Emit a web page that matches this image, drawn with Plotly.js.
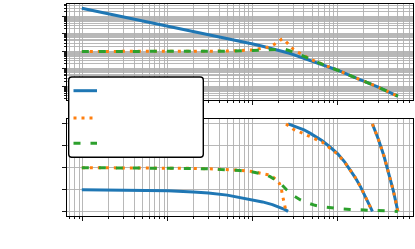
<!DOCTYPE html>
<html><head><meta charset="utf-8">
<script src="https://cdn.plot.ly/plotly-3.0.1.min.js"></script>
<style>html,body{margin:0;padding:0;background:#fff;}#chart{width:415px;height:249px;}</style>
</head><body><div id="chart"></div>
<script>
// ---- data ----
const magFreq = [0.097,0.2,0.5,1,2,5,10,13,15,17,19,20.5,21.6,22.3,23,24,25,27,30,35,40,45,50,60,70,85,100,150,200,300,400,510];
const magOpenLoop = [290,141,56,28,14,5.5,2.7,2.0,1.7,1.45,1.26,1.15,1.08,1.04,1.0,0.95,0.9,0.79,0.66,0.51,0.42,0.35,0.29,0.21,0.16,0.112,0.085,0.037,0.021,0.0092,0.0048,0.0028];
const magClosedDelay = [1,1,1,1,1,1.05,1.22,1.5,1.75,2.2,2.9,3.9,4.9,5.3,5.0,4.1,3.4,2.3,1.35,0.85,0.56,0.42,0.33,0.22,0.165,0.114,0.086,0.037,0.021,0.0092,0.0048,0.0028];
const magClosedApprox = [1,1,1,1,1,1.03,1.13,1.22,1.3,1.37,1.42,1.43,1.42,1.4,1.37,1.32,1.26,1.13,0.95,0.7,0.52,0.41,0.32,0.22,0.163,0.113,0.085,0.037,0.021,0.0092,0.0048,0.0028];

const phFreqOpen = [0.097,0.2,0.5,1,2,3,5,7,10,13,17,21,24,26,26,26,30,35,40,47,65,81,100,121,140,160,185,207,230,256,256,256,300,350,400,450,510];
const phOpen = [-90.5,-91,-92.5,-95,-100,-104,-113,-122,-133,-141,-152,-164,-173,-180,null,180,173,165,156,142,112,85,57,23,-8,-40,-78,-113,-148,-180,null,180,118,48,-22,-93,-180];
const phFreqDelay = [0.097,0.2,0.5,1,2,3,5,7,10,13,15,17,19,20.5,21.6,22.5,23.5,24.6,24.6,24.6,27,30,35,40,47,65,81,100,121,140,160,185,207,230,256,256,256,300,350,400,450,510];
const phDelay = [0,-0.3,-0.8,-1.5,-3,-4.5,-7.5,-10.5,-16,-23,-29,-37,-50,-64,-86,-118,-150,-180,null,180,168,158,148,140,128,106,80,55,22,-8,-40,-78,-113,-148,-180,null,180,118,48,-22,-93,-180];
const phFreqApprox = [0.097,0.2,0.5,1,2,3,5,7,10,13,16,18,20,22,25,30,36,45,54,70,88,110,140,180,226,300,375,510];
const phApprox = [0,-0.3,-0.8,-1.5,-3.5,-5,-8.5,-12,-18,-26,-37,-47,-58,-71,-91,-115,-132,-146,-155,-162,-167,-170,-172,-174,-176,-177.5,-179,-180];

const phaseTicks = [-180,-90,0,90,180];
const colors = ['#1f77b4','#ff7f0e','#2ca02c'];

// ---- layout geometry (pixels) ----
const W = 415, H = 249, L = 67, R = 413, T = 4, B = 216;
const px = x => (x - L) / (R - L);
const py = y => (B - y) / (B - T);

const styles = [
  {color: colors[0], width: 3},
  {color: colors[1], width: 3, dash: '3px,5px'},
  {color: colors[2], width: 3, dash: '7px,10px'}
];

const traces = [
  {x: magFreq, y: magOpenLoop, xaxis: 'x', yaxis: 'y', mode: 'lines', line: styles[0], showlegend: false},
  {x: magFreq, y: magClosedDelay, xaxis: 'x', yaxis: 'y', mode: 'lines', line: styles[1], showlegend: false},
  {x: magFreq, y: magClosedApprox, xaxis: 'x', yaxis: 'y', mode: 'lines', line: styles[2], showlegend: false},
  {x: phFreqOpen, y: phOpen, xaxis: 'x2', yaxis: 'y2', mode: 'lines', line: styles[0], showlegend: false, connectgaps: false},
  {x: phFreqDelay, y: phDelay, xaxis: 'x2', yaxis: 'y2', mode: 'lines', line: styles[1], showlegend: false, connectgaps: false},
  {x: phFreqApprox, y: phApprox, xaxis: 'x2', yaxis: 'y2', mode: 'lines', line: styles[2], showlegend: false}
];

const grid = '#b0b0b0';
const logMinor = {dtick: 'D1', ticks: 'outside', ticklen: 2.3, tickwidth: 0.9, tickcolor: '#000', showgrid: true, gridcolor: grid, gridwidth: 0.9};
const common = {showline: true, mirror: true, linecolor: '#000', linewidth: 1, ticks: 'outside', ticklen: 4, tickwidth: 0.9, tickcolor: '#000',
  showticklabels: false, showgrid: true, gridcolor: grid, gridwidth: 0.9, zeroline: false};
const xRange = [-1.188, 2.886];

// legend box drawn as shapes
const lx0 = px(68.7), lx1 = px(203.3), ly0 = py(77), ly1 = py(157.3);
const rx = 3 / (R - L), ry = 3 / (B - T);
const boxPath = `M ${lx0+rx},${ly0} L ${lx1-rx},${ly0} Q ${lx1},${ly0} ${lx1},${ly0-ry} L ${lx1},${ly1+ry} Q ${lx1},${ly1} ${lx1-rx},${ly1} L ${lx0+rx},${ly1} Q ${lx0},${ly1} ${lx0},${ly1+ry} L ${lx0},${ly0-ry} Q ${lx0},${ly0} ${lx0+rx},${ly0} Z`;
const legendRows = [90.7, 118, 143.3];
const shapes = [{type: 'path', xref: 'paper', yref: 'paper', path: boxPath, fillcolor: '#fff', line: {color: '#000', width: 1.4}, layer: 'above'}];
legendRows.forEach((yy, i) => {
  shapes.push({type: 'line', xref: 'paper', yref: 'paper', x0: px(73.5), x1: px(97), y0: py(yy), y1: py(yy), line: styles[i], layer: 'above'});
});

const layout = {
  width: W, height: H,
  margin: {l: L, r: W - R, t: T, b: H - B, pad: 0},
  paper_bgcolor: '#fff', plot_bgcolor: '#fff',
  font: {family: 'DejaVu Sans', size: 10, color: '#000'},
  showlegend: false,
  xaxis: Object.assign({}, common, {type: 'log', range: xRange, domain: [0, 1], anchor: 'y', dtick: 1, minor: logMinor}),
  yaxis: Object.assign({}, common, {type: 'log', range: [-2.77, 2.71], domain: [py(100), 1], anchor: 'x', dtick: 1, minor: logMinor}),
  xaxis2: Object.assign({}, common, {type: 'log', range: xRange, domain: [0, 1], anchor: 'y2', dtick: 1, minor: logMinor}),
  yaxis2: Object.assign({}, common, {range: [-199, 199], domain: [0, py(119.3)], anchor: 'x2', tickvals: phaseTicks}),
  shapes: shapes
};

Plotly.newPlot('chart', traces, layout, {staticPlot: true, displayModeBar: false});
</script>
</body></html>
